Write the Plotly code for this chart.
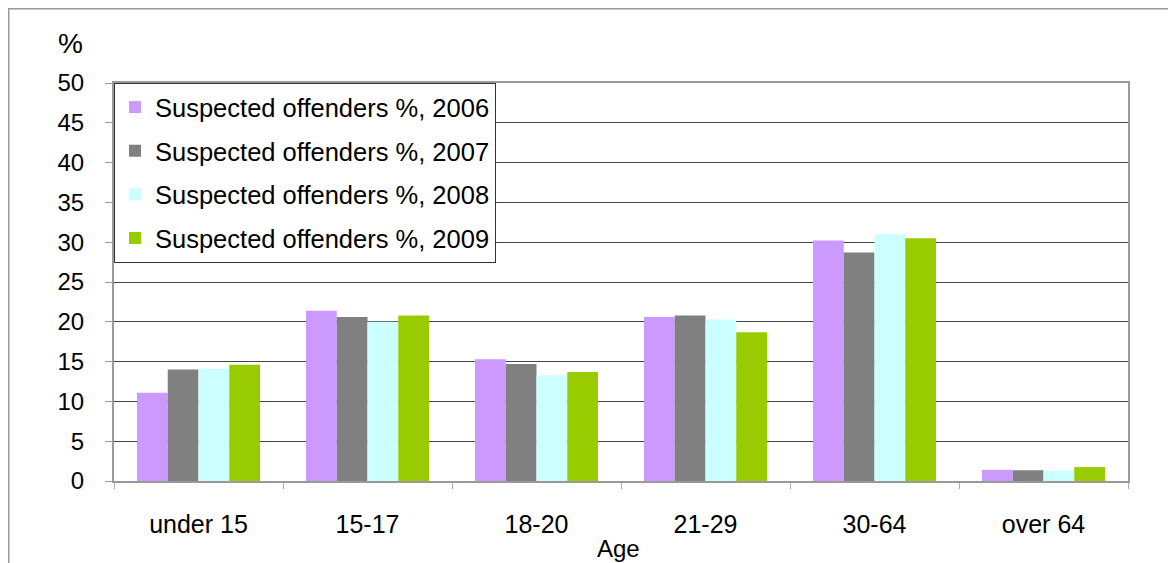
import plotly.graph_objects as go

categories = ["under 15", "15-17", "18-20", "21-29", "30-64", "over 64"]
y2006 = [11.1, 21.4, 15.3, 20.6, 30.2, 1.4]
y2007 = [14.0, 20.6, 14.7, 20.8, 28.7, 1.35]
y2008 = [14.1, 20.0, 13.3, 20.3, 31.0, 1.3]
y2009 = [14.6, 20.8, 13.7, 18.7, 30.5, 1.75]
series_names = ["Suspected offenders %, 2006", "Suspected offenders %, 2007",
                "Suspected offenders %, 2008", "Suspected offenders %, 2009"]
colors = ["#CC99FF", "#808080", "#CCFFFF", "#99CC00"]
yticks = [0, 5, 10, 15, 20, 25, 30, 35, 40, 45, 50]

FONT = "Liberation Sans, Arial, sans-serif"

# page has an 8px body margin; figure coordinates are page coordinates minus 8
W, H = 1168, 555
L, T = 106, 75
PW, PH = 1014, 398

fig = go.Figure()
for name, vals, col in zip(series_names, [y2006, y2007, y2008, y2009], colors):
    fig.add_trace(go.Bar(x=categories, y=vals, name=name, legendgroup=name,
                         marker=dict(color=col, line=dict(width=0))))

fig.update_layout(
    width=W, height=H,
    margin=dict(l=L, r=W - L - PW, t=T, b=H - T - PH),
    paper_bgcolor="white", plot_bgcolor="white",
    barmode="group", bargap=0.272, bargroupgap=0,
    font=dict(family=FONT, size=24, color="black"),
    showlegend=True,
    legend=dict(x=0, y=1, xanchor="left", yanchor="top",
                bgcolor="white", bordercolor="#333333", borderwidth=1,
                font=dict(family=FONT, size=25.5, color="black"),
                tracegroupgap=7.5, traceorder="grouped"),
    xaxis=dict(showline=True, linecolor="#999999", linewidth=2, mirror=True,
               ticks="outside", tickson="boundaries", ticklen=6, tickcolor="#AAAAAA",
               ticklabelstandoff=20, showgrid=False,
               tickfont=dict(family=FONT, size=25, color="black")),
    yaxis=dict(range=[0, 50], tickvals=yticks, showline=True, linecolor="#999999",
               linewidth=2, mirror=True, ticks="outside", ticklen=7, tickcolor="#999999",
               ticklabelstandoff=16,
               showgrid=True, gridcolor="#444444", gridwidth=1, zeroline=False,
               tickfont=dict(family=FONT, size=24, color="black")),
    shapes=[dict(type="rect", xref="paper", yref="paper",
                 x0=(0.75 - L) / PW, x1=1.2, y0=-0.5, y1=(T + PH - 0.75) / PH,
                 line=dict(color="#999999", width=1.5), fillcolor="rgba(0,0,0,0)",
                 layer="below")],
    annotations=[
        dict(text="%", xref="paper", yref="paper", x=(70 - 114) / PW,
             y=(481 - 43) / PH, xanchor="center", yanchor="middle", showarrow=False,
             font=dict(family=FONT, size=28, color="black")),
        dict(text="Age", xref="paper", yref="paper", x=(618 - 114) / PW,
             y=(481 - 548) / PH, xanchor="center", yanchor="middle", showarrow=False,
             font=dict(family=FONT, size=24, color="black")),
    ],
)

fig.write_html("out.html")
